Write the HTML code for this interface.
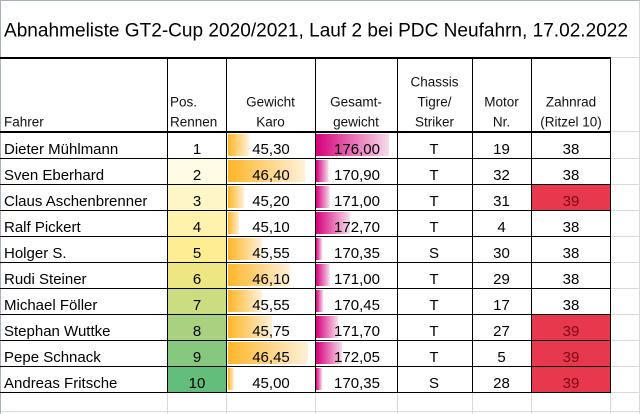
<!DOCTYPE html>
<html><head><meta charset="utf-8">
<style>
html,body{margin:0;padding:0;background:#fff;}
svg{display:block;}
text{font-family:"Liberation Sans",Arial,sans-serif;fill:#000;}
.h{font-size:13.5px;fill:#111;}
.d{font-size:15px;}
.c{text-anchor:middle;}
</style></head>
<body>
<svg width="640" height="414" viewBox="0 0 640 414" xmlns="http://www.w3.org/2000/svg">
<defs>
<linearGradient id="gO" x1="0" x2="1" y1="0" y2="0"><stop offset="0" stop-color="#FFB628"/><stop offset="1" stop-color="#FFF1DA"/></linearGradient>
<linearGradient id="gP" x1="0" x2="1" y1="0" y2="0"><stop offset="0" stop-color="#D6007B"/><stop offset="1" stop-color="#F7DCEC"/></linearGradient>
</defs>
<rect x="0" y="0" width="640" height="414" fill="#fff"/>
<!-- window border -->
<rect x="0" y="0" width="640" height="1" fill="#a9b2bb"/>
<rect x="0" y="0" width="1" height="414" fill="#a9b2bb"/>
<!-- light gridlines outside table -->
<g fill="#d9d9d9">
<rect x="639" y="1" width="1" height="413"/>
<rect x="611" y="57" width="29" height="1"/>
<rect x="611" y="131" width="29" height="1"/>
<rect x="611" y="158" width="29" height="1"/>
<rect x="611" y="184" width="29" height="1"/>
<rect x="611" y="210" width="29" height="1"/>
<rect x="611" y="236" width="29" height="1"/>
<rect x="611" y="262" width="29" height="1"/>
<rect x="611" y="288" width="29" height="1"/>
<rect x="611" y="314" width="29" height="1"/>
<rect x="611" y="340" width="29" height="1"/>
<rect x="611" y="366" width="29" height="1"/>
<rect x="611" y="392" width="29" height="1"/>
<rect x="1" y="411" width="639" height="1"/>
<rect x="167" y="393" width="1" height="21"/>
<rect x="226" y="393" width="1" height="21"/>
<rect x="315" y="393" width="1" height="21"/>
<rect x="397" y="393" width="1" height="21"/>
<rect x="472" y="393" width="1" height="21"/>
<rect x="531" y="393" width="1" height="21"/>
<rect x="610" y="393" width="1" height="21"/>
</g>

<!-- title -->
<text x="4" y="36.5" style="font-size:19px" textLength="624" lengthAdjust="spacingAndGlyphs">Abnahmeliste GT2-Cup 2020/2021, Lauf 2 bei PDC Neufahrn, 17.02.2022</text>

<!-- Pos color scale fills -->
<rect x="168" y="159" width="58" height="25" fill="#FFFBE4"/>
<rect x="168" y="185" width="58" height="25" fill="#FFF6C8"/>
<rect x="168" y="211" width="58" height="25" fill="#FFF2AD"/>
<rect x="168" y="237" width="58" height="25" fill="#FFED92"/>
<rect x="168" y="263" width="58" height="25" fill="#EEE683"/>
<rect x="168" y="289" width="58" height="25" fill="#CBDC81"/>
<rect x="168" y="315" width="58" height="25" fill="#A8D27F"/>
<rect x="168" y="341" width="58" height="25" fill="#86C87D"/>
<rect x="168" y="367" width="58" height="25" fill="#63BE7B"/>

<!-- red cells -->
<rect x="532" y="185" width="78" height="25" fill="#E8384D"/>
<rect x="532" y="315" width="78" height="25" fill="#E8384D"/>
<rect x="532" y="341" width="78" height="25" fill="#E8384D"/>
<rect x="532" y="367" width="78" height="25" fill="#E8384D"/>

<!-- Gewicht bars -->
<rect x="228" y="134" width="21.3" height="22" fill="url(#gO)"/>
<rect x="228" y="160" width="77.4" height="22" fill="url(#gO)"/>
<rect x="228" y="186" width="16.2" height="22" fill="url(#gO)"/>
<rect x="228" y="212" width="11.1" height="22" fill="url(#gO)"/>
<rect x="228" y="238" width="34.1" height="22" fill="url(#gO)"/>
<rect x="228" y="264" width="62.1" height="22" fill="url(#gO)"/>
<rect x="228" y="290" width="34.1" height="22" fill="url(#gO)"/>
<rect x="228" y="316" width="44.3" height="22" fill="url(#gO)"/>
<rect x="228" y="342" width="80" height="22" fill="url(#gO)"/>
<rect x="228" y="368" width="6" height="22" fill="url(#gO)"/>

<!-- Gesamt bars -->
<rect x="316" y="134" width="73" height="22" fill="url(#gP)"/>
<rect x="316" y="160" width="12.5" height="22" fill="url(#gP)"/>
<rect x="316" y="186" width="13.7" height="22" fill="url(#gP)"/>
<rect x="316" y="212" width="33.9" height="22" fill="url(#gP)"/>
<rect x="316" y="238" width="6" height="22" fill="url(#gP)"/>
<rect x="316" y="264" width="13.7" height="22" fill="url(#gP)"/>
<rect x="316" y="290" width="7.2" height="22" fill="url(#gP)"/>
<rect x="316" y="316" width="22" height="22" fill="url(#gP)"/>
<rect x="316" y="342" width="26.2" height="22" fill="url(#gP)"/>
<rect x="316" y="368" width="6" height="22" fill="url(#gP)"/>

<!-- table lines -->
<g fill="#000">
<rect x="0" y="57" width="611" height="2"/>
<rect x="0" y="131" width="611" height="2"/>
<rect x="0" y="158" width="611" height="1"/>
<rect x="0" y="184" width="611" height="1"/>
<rect x="0" y="210" width="611" height="1"/>
<rect x="0" y="236" width="611" height="1"/>
<rect x="0" y="262" width="611" height="1"/>
<rect x="0" y="288" width="611" height="1"/>
<rect x="0" y="314" width="611" height="1"/>
<rect x="0" y="340" width="611" height="1"/>
<rect x="0" y="366" width="611" height="1"/>
<rect x="0" y="392" width="611" height="1"/>
<rect x="167" y="57" width="1" height="336"/>
<rect x="226" y="57" width="1" height="336"/>
<rect x="315" y="57" width="1" height="336"/>
<rect x="397" y="57" width="1" height="336"/>
<rect x="472" y="57" width="1" height="336"/>
<rect x="531" y="57" width="1" height="336"/>
<rect x="610" y="57" width="1" height="336"/>
</g>

<!-- header -->
<text class="h" x="4" y="126.5">Fahrer</text>
<text class="h" x="170" y="106.5">Pos.</text>
<text class="h" x="170" y="126.5">Rennen</text>
<text class="h c" x="270.5" y="106.5">Gewicht</text>
<text class="h c" x="270.5" y="126.5">Karo</text>
<text class="h c" x="356" y="106.5">Gesamt-</text>
<text class="h c" x="356" y="126.5">gewicht</text>
<text class="h c" x="434.5" y="86.5">Chassis</text>
<text class="h c" x="434.5" y="106.5">Tigre/</text>
<text class="h c" x="434.5" y="126.5">Striker</text>
<text class="h c" x="501.5" y="106.5">Motor</text>
<text class="h c" x="501.5" y="126.5">Nr.</text>
<text class="h c" x="571" y="106.5">Zahnrad</text>
<text class="h c" x="571" y="126.5">(Ritzel 10)</text>

<!-- data rows: baseline = line + 22 -->
<g class="d">
<text class="d" x="4" y="154">Dieter Mühlmann</text>
<text class="d" x="4" y="180">Sven Eberhard</text>
<text class="d" x="4" y="206">Claus Aschenbrenner</text>
<text class="d" x="4" y="232">Ralf Pickert</text>
<text class="d" x="4" y="258">Holger S.</text>
<text class="d" x="4" y="284">Rudi Steiner</text>
<text class="d" x="4" y="310">Michael Föller</text>
<text class="d" x="4" y="336">Stephan Wuttke</text>
<text class="d" x="4" y="362">Pepe Schnack</text>
<text class="d" x="4" y="388">Andreas Fritsche</text>

<text class="d c" x="197" y="154">1</text>
<text class="d c" x="197" y="180">2</text>
<text class="d c" x="197" y="206">3</text>
<text class="d c" x="197" y="232">4</text>
<text class="d c" x="197" y="258">5</text>
<text class="d c" x="197" y="284">6</text>
<text class="d c" x="197" y="310">7</text>
<text class="d c" x="197" y="336">8</text>
<text class="d c" x="197" y="362">9</text>
<text class="d c" x="197" y="388">10</text>

<text class="d c" x="271" y="154">45,30</text>
<text class="d c" x="271" y="180">46,40</text>
<text class="d c" x="271" y="206">45,20</text>
<text class="d c" x="271" y="232">45,10</text>
<text class="d c" x="271" y="258">45,55</text>
<text class="d c" x="271" y="284">46,10</text>
<text class="d c" x="271" y="310">45,55</text>
<text class="d c" x="271" y="336">45,75</text>
<text class="d c" x="271" y="362">46,45</text>
<text class="d c" x="271" y="388">45,00</text>

<text class="d c" x="357" y="154">176,00</text>
<text class="d c" x="357" y="180">170,90</text>
<text class="d c" x="357" y="206">171,00</text>
<text class="d c" x="357" y="232">172,70</text>
<text class="d c" x="357" y="258">170,35</text>
<text class="d c" x="357" y="284">171,00</text>
<text class="d c" x="357" y="310">170,45</text>
<text class="d c" x="357" y="336">171,70</text>
<text class="d c" x="357" y="362">172,05</text>
<text class="d c" x="357" y="388">170,35</text>

<text class="d c" x="434" y="154">T</text>
<text class="d c" x="434" y="180">T</text>
<text class="d c" x="434" y="206">T</text>
<text class="d c" x="434" y="232">T</text>
<text class="d c" x="434" y="258">S</text>
<text class="d c" x="434" y="284">T</text>
<text class="d c" x="434" y="310">T</text>
<text class="d c" x="434" y="336">T</text>
<text class="d c" x="434" y="362">T</text>
<text class="d c" x="434" y="388">S</text>

<text class="d c" x="501.5" y="154">19</text>
<text class="d c" x="501.5" y="180">32</text>
<text class="d c" x="501.5" y="206">31</text>
<text class="d c" x="501.5" y="232">4</text>
<text class="d c" x="501.5" y="258">30</text>
<text class="d c" x="501.5" y="284">29</text>
<text class="d c" x="501.5" y="310">17</text>
<text class="d c" x="501.5" y="336">27</text>
<text class="d c" x="501.5" y="362">5</text>
<text class="d c" x="501.5" y="388">28</text>

<text class="d c" x="571" y="154">38</text>
<text class="d c" x="571" y="180">38</text>
<text class="d c" x="571" y="206" style="fill:#7a0a14">39</text>
<text class="d c" x="571" y="232">38</text>
<text class="d c" x="571" y="258">38</text>
<text class="d c" x="571" y="284">38</text>
<text class="d c" x="571" y="310">38</text>
<text class="d c" x="571" y="336" style="fill:#7a0a14">39</text>
<text class="d c" x="571" y="362" style="fill:#7a0a14">39</text>
<text class="d c" x="571" y="388" style="fill:#7a0a14">39</text>
</g>
</svg>
</body></html>
